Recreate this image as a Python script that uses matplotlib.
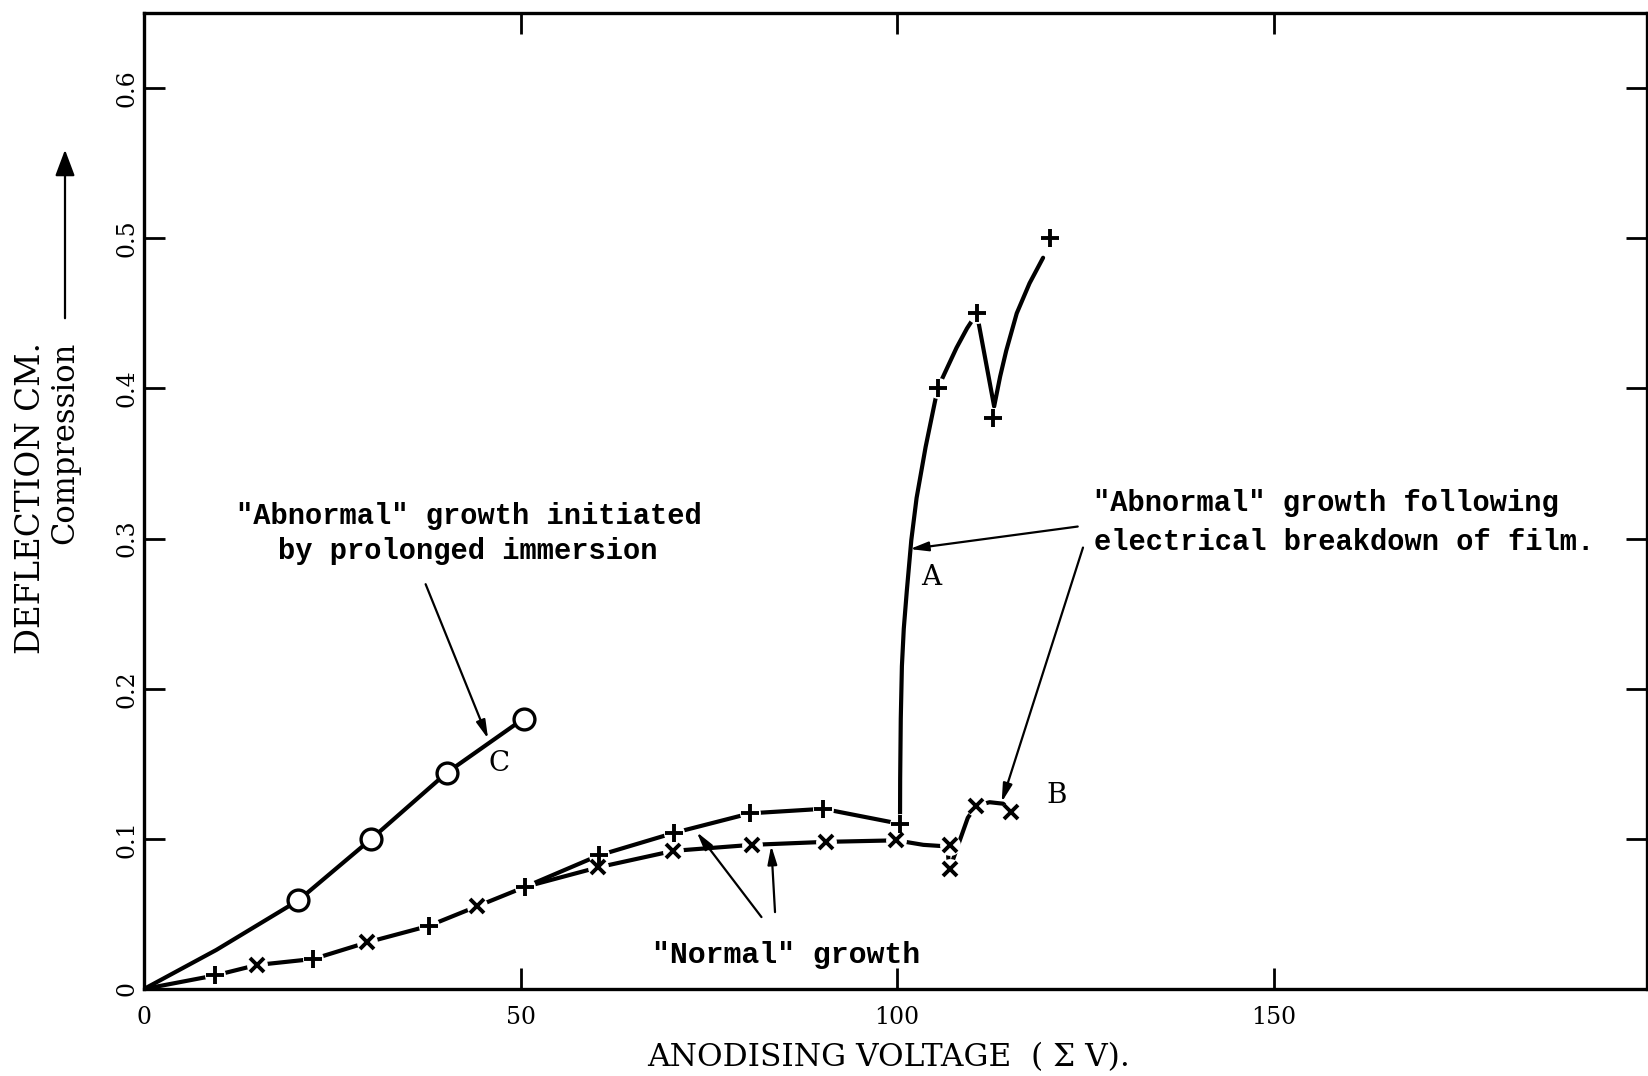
import matplotlib
matplotlib.use("Agg")
import matplotlib.pyplot as plt
import numpy as np
from matplotlib.patches import FancyArrowPatch

# ---------------- data ----------------
# "Normal" growth, '+' specimen
plus_v = [9.4, 22.5, 37.8, 50.6, 60.4, 70.4, 80.5, 90.2, 100.4]
plus_d = [0.009, 0.020, 0.042, 0.068, 0.089, 0.104, 0.117, 0.120, 0.110]
# "Normal" growth, 'x' specimen
cross_v = [15.0, 29.6, 44.2, 60.3, 70.3, 80.7, 90.6, 99.9]
cross_d = [0.016, 0.031, 0.055, 0.081, 0.092, 0.096, 0.098, 0.099]
# Curve A markers ('+', after breakdown)
A_v = [105.4, 110.6, 112.8, 120.3]
A_d = [0.400, 0.450, 0.380, 0.500]
# Curve A drawn line (traced)
A_line_v = [100.4, 100.42, 100.5, 100.65, 100.9, 101.3, 101.9, 102.6, 103.8, 105.4,
            106.6, 107.9, 109.3, 110.6, 112.9, 113.7, 114.5, 115.9, 117.6, 119.4]
A_line_d = [0.110, 0.140, 0.180, 0.215, 0.240, 0.265, 0.299, 0.327, 0.361, 0.400,
            0.413, 0.427, 0.440, 0.450, 0.388, 0.408, 0.425, 0.450, 0.470, 0.487]
# Curve B markers ('x', after breakdown)
B_v = [107.0, 107.0, 110.5, 115.2]
B_d = [0.096, 0.080, 0.122, 0.118]
# Curve B drawn line (traced)
B_line_v = [99.9, 103.5, 106.5, 107.0, 106.8, 107.0, 109.4, 110.5, 112.3, 114.1, 115.2]
B_line_d = [0.099, 0.096, 0.095, 0.096, 0.088, 0.080, 0.114, 0.122, 0.1244, 0.1234, 0.118]
# Curve C (prolonged immersion), open circles
C_v = [20.5, 30.2, 40.2, 50.4]
C_d = [0.059, 0.100, 0.144, 0.180]
C_line_v = [0.0, 9.6]
C_line_d = [0.0, 0.026]

xticks = [0, 50, 100, 150]
xtick_labels = ["0", "50", "100", "150"]
yticks = [0, 0.1, 0.2, 0.3, 0.4, 0.5, 0.6]
ytick_labels = ["0", "0.1", "0.2", "0.3", "0.4", "0.5", "0.6"]

W, H = 1649, 1076
fig = plt.figure(figsize=(W / 100, H / 100), dpi=100)
ax = fig.add_axes([144 / W, 1 - 989 / H, (1647 - 144) / W, (989 - 13) / H])
ax.set_xlim(0, 199.6)
ax.set_ylim(0, 0.65)

serif = "DejaVu Serif"
typew = "Liberation Mono"
LW = 3.0
K = "black"

# ---- lines ----
low = sorted([(0.0, 0.0)] + list(zip(plus_v[:4], plus_d[:4])) + list(zip(cross_v[:3], cross_d[:3])))
ax.plot([p[0] for p in low], [p[1] for p in low], color=K, lw=LW, zorder=2, solid_capstyle="round")
ax.plot(plus_v[3:], plus_d[3:], color=K, lw=LW, zorder=2, solid_capstyle="round")
ax.plot([plus_v[3]] + cross_v[3:], [plus_d[3]] + cross_d[3:], color=K, lw=LW, zorder=2, solid_capstyle="round")
ax.plot(A_line_v, A_line_d, color=K, lw=LW, zorder=2, solid_capstyle="round", solid_joinstyle="round")
ax.plot(B_line_v, B_line_d, color=K, lw=LW, zorder=2, solid_capstyle="round", solid_joinstyle="round")
ax.plot(C_line_v + C_v, C_line_d + C_d, color=K, lw=LW, zorder=2, solid_capstyle="round")

# white gaps around markers
for vv, dd in [(plus_v, plus_d), (cross_v, cross_d), (A_v, A_d), (B_v, B_d)]:
    ax.plot(vv, dd, ls="none", marker="o", ms=15, mfc="white", mec="none", zorder=3)

# ---- markers ----
ax.plot(plus_v + A_v, plus_d + A_d, ls="none", marker="+", ms=13, mew=2.8, color=K, zorder=4)
ax.plot(cross_v + B_v, cross_d + B_d, ls="none", marker="x", ms=10, mew=2.8, color=K, zorder=4)
ax.plot(C_v, C_d, ls="none", marker="o", ms=15, mfc="white", mec=K, mew=2.4, zorder=4)

# ---- annotations ----
arw = dict(arrowstyle="-|>,head_length=1.1,head_width=0.28", color=K, lw=1.6, shrinkA=0, shrinkB=0)
ax.annotate("", xy=(45.7, 0.1666), xytext=(37.4, 0.2696), arrowprops=arw)
ax.annotate("", xy=(101.7, 0.293), xytext=(124.0, 0.308), arrowprops=arw)
ax.annotate("", xy=(113.9, 0.1244), xytext=(124.7, 0.294), arrowprops=arw)
ax.annotate("", xy=(73.4, 0.1045), xytext=(82.0, 0.0479), arrowprops=arw)
ax.annotate("", xy=(83.3, 0.0955), xytext=(83.8, 0.0512), arrowprops=arw)

tkw = dict(family=typew, fontsize=20.7, fontweight="bold", color=K)
ax.text(43.2, 0.315, '"Abnormal" growth initiated', ha="center", va="center", **tkw)
ax.text(43.0, 0.292, 'by prolonged immersion', ha="center", va="center", **tkw)
ax.text(157.0, 0.3235, '"Abnormal" growth following', ha="center", va="center", **tkw)
ax.text(159.4, 0.2976, 'electrical breakdown of film.', ha="center", va="center", **tkw)
ax.text(85.3, 0.0224, '"Normal" growth', ha="center", va="center",
        family=typew, fontsize=21.5, fontweight="bold", color=K)

lkw = dict(family=serif, fontsize=20, color=K, ha="center", va="center")
ax.text(47.2, 0.1505, "C", **lkw)
ax.text(104.6, 0.274, "A", **lkw)
ax.text(121.2, 0.129, "B", **lkw)

# ---- axes styling ----
ax.set_xticks(xticks)
ax.set_xticklabels(xtick_labels, family=serif, fontsize=17)
ax.set_yticks(yticks)
ax.set_yticklabels(ytick_labels, family=serif, fontsize=17, rotation=90, va="center")
ax.tick_params(direction="in", length=15, width=2.0, top=True, right=True, colors=K)
ax.tick_params(axis="x", pad=12)
ax.tick_params(axis="y", pad=4)
for s in ax.spines.values():
    s.set_linewidth(2.4)
    s.set_color(K)

fig.text(845 * 1.0517 / W, 1 - 1058 / H, "ANODISING VOLTAGE  ( \u03a3 V).", family=serif,
         fontsize=22.5, ha="center", va="center")
fig.text(31.5 / W, 1 - 498.5 / H, "DEFLECTION CM.", family=serif, fontsize=23.5,
         rotation=90, ha="center", va="center")
fig.text(65 / W, 1 - 443 / H, "Compression", family=serif, fontsize=22,
         rotation=90, ha="center", va="center")
fig.add_artist(FancyArrowPatch((65 / W, 1 - 321 / H), (65 / W, 1 - 147 / H),
                               transform=fig.transFigure,
                               arrowstyle="-|>,head_length=8,head_width=3",
                               color=K, lw=1.6, mutation_scale=2))

fig.savefig("out.png", dpi=100)
